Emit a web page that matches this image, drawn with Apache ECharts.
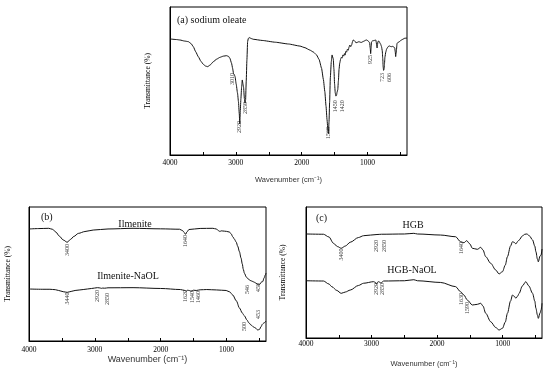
<!DOCTYPE html>
<html><head><meta charset="utf-8">
<script src="https://cdn.jsdelivr.net/npm/echarts@6/dist/echarts.min.js"></script>
<style>html,body{margin:0;padding:0;background:#fff}#c{width:550px;height:376px}</style>
</head><body><div id="c"></div>
<script>
// ---- data: [wavenumber (cm-1), transmittance (arb.)] ----
const sodiumOleate = [[4000,78.4],[3900,78.0],[3848,77.7],[3780,77.0],[3722,76.6],[3680,75.3],[3646,73.2],[3610,69.8],[3570,66.4],[3530,63.3],[3495,61.3],[3460,60.1],[3428,59.7],[3390,60.8],[3343,63.0],[3290,64.8],[3241,66.0],[3190,66.8],[3140,67.1],[3110,66.6],[3090,65.3],[3065,62],[3049,58.6],[3035,55],[3025,54.5],[3012,53],[2995,48],[2975,42],[2960,36],[2948,28],[2940,21],[2932,30],[2923,38],[2912,46],[2902,50.7],[2893,50.5],[2883,46],[2870,38],[2860,35],[2852,37],[2842,50],[2832,64],[2821,76.6],[2810,78.8],[2797,79.3],[2760,78.6],[2736,78.2],[2600,77.4],[2400,76.2],[2200,75],[2027,73.6],[1950,72.5],[1876,70.9],[1820,69.5],[1774,67.6],[1735,64.5],[1698,58.6],[1670,51],[1648,42.8],[1630,33],[1615,24],[1600,16],[1593,14.5],[1585,22],[1575,36],[1565,52],[1550,63],[1538,67.6],[1530,67.8],[1520,65],[1510,58],[1500,48],[1490,42],[1480,39.8],[1470,40.5],[1462,42.5],[1452,44],[1442,50],[1432,58],[1422,62],[1410,64.5],[1398,66],[1385,65.5],[1375,67.6],[1362,66.8],[1350,68.5],[1340,67.5],[1328,70],[1318,69.5],[1305,71.5],[1292,70.8],[1280,73],[1268,74.3],[1255,73.2],[1240,74.5],[1228,76.5],[1218,77.7],[1205,77.5],[1190,76.8],[1175,75.8],[1167,75.7],[1150,76.2],[1130,76.6],[1110,76.2],[1091,76.1],[1070,76.6],[1050,77],[1030,77.5],[1015,77.7],[995,77.2],[980,76.6],[968,75.8],[958,72],[952,68.5],[946,72],[940,76.4],[920,77.2],[900,77.3],[885,77.6],[874,77.7],[866,76],[860,73.5],[854,72.3],[848,74.5],[840,76.8],[828,77],[815,76],[800,74.8],[787,73.2],[776,70.5],[768,65],[762,59.5],[756,57.2],[750,57.8],[743,61],[735,66.2],[722,69.6],[710,71.5],[700,72.3],[687,73.2],[670,73.7],[655,73.4],[636,73.2],[618,73.4],[600,73],[586,72.3],[578,69.5],[572,66.5],[566,66.8],[560,71],[552,75.2],[540,76],[520,76.4],[500,77.2],[484,77.7],[460,78.3],[434,78.9],[400,79]];

const ilmenite = [[4000,83.6],[3850,83.9],[3700,84.1],[3640,83.3],[3590,81.2],[3540,78.3],[3480,75.4],[3420,73.7],[3370,75.8],[3320,78.0],[3250,80.3],[3150,81.7],[3025,82.8],[2800,83.6],[2420,84.1],[2000,83.7],[1712,83.4],[1665,82.3],[1640,80.8],[1621,79.6],[1600,81.5],[1570,83.2],[1400,84.0],[1207,84.1],[1156,83.6],[1120,82.3],[1100,81.7],[1080,82.2],[1056,82.1],[1000,81.8],[955,81.3],[930,80],[905,77.8],[880,76],[853,73.9],[830,70.8],[803,66.6],[780,62],[760,57.5],[745,53.5],[727,50.5],[700,47.8],[670,46.3],[640,45.2],[601,44.4],[575,43.8],[550,43.1],[525,42.3],[505,41.9],[490,42.5],[470,44],[450,44.3],[430,47],[410,49.3],[400,50.7]];

const ilmeniteNaOL = [[4000,38.8],[3800,38.6],[3682,38.6],[3600,38.3],[3550,37.7],[3480,36.8],[3420,36.3],[3360,37.0],[3300,37.7],[3177,38.4],[3050,39.2],[2960,39.8],[2924,39.6],[2900,39.3],[2880,39.5],[2850,39.4],[2800,39.7],[2420,39.8],[2000,39.2],[1700,38.4],[1640,37.8],[1611,37.1],[1590,37.9],[1560,37.6],[1540,37.2],[1500,37.9],[1460,37.7],[1400,38.2],[1300,38.4],[1150,38.1],[1005,37.7],[950,36.6],[905,34.3],[850,29.9],[803,24.6],[760,20.9],[727,18.7],[690,15.7],[660,13.5],[626,11.9],[590,10.5],[560,9.7],[526,8.2],[500,8.6],[475,10.7],[455,12.5],[440,13.2],[420,13.8],[400,14.9]];

const hgb = [[4000,79.4],[3734,79.2],[3650,77.1],[3581,72.3],[3520,69.8],[3463,68.5],[3400,70.2],[3325,73.1],[3200,76.7],[3121,78.1],[2917,79.0],[2850,79.2],[2500,79.4],[2355,79.9],[2300,79.4],[1948,78.6],[1718,77.3],[1642,73.5],[1591,72.7],[1550,74.3],[1500,71.8],[1463,68.5],[1386,67.7],[1335,69.2],[1300,67.2],[1259,62.1],[1182,57.0],[1106,51.9],[1055,48.9],[1003,50.6],[960,55.7],[927,62.1],[880,70.2],[850,73.5],[820,72.9],[799,71.8],[770,73.7],[749,74.8],[700,77.9],[660,79.2],[631,79.4],[590,77.9],[544,74.8],[510,70.2],[493,65.9],[470,60.3],[456,58.2],[430,62.6],[414,63.4],[400,67.9]];

const hgbNaOL = [[4000,43.7],[3734,43.5],[3650,41.2],[3607,39.2],[3530,36.3],[3463,34.1],[3400,35.1],[3325,36.6],[3200,40.1],[3121,41.8],[2968,43.0],[2940,42.4],[2927,41.0],[2905,42.7],[2891,43.0],[2870,42.4],[2855,41.8],[2830,43.1],[2815,43.5],[2500,43.7],[2355,44.5],[2300,43.7],[1946,42.4],[1718,39.2],[1642,35.3],[1591,32.8],[1540,29.0],[1463,25.2],[1386,25.7],[1335,26.5],[1300,24.4],[1259,18.9],[1182,12.4],[1106,8.0],[1055,6.1],[1003,7.4],[960,12.2],[927,18.9],[880,28.2],[850,32.8],[820,31.7],[799,30.3],[770,32.1],[749,34.1],[700,39.7],[647,43.0],[600,39.7],[544,34.1],[510,28.2],[493,22.7],[470,17.6],[456,15.0],[430,19.1],[414,21.4],[400,26.5]];

// peak annotations: [wavenumber, transmittance at label top, text]
const peaksA = [[3045,55.4,'3010'],[2938,23,'2920'],[2852,35.8,'2850'],[1590,18.9,'1560'],[1480,37,'1450'],[1379,37,'1420'],[950,67.6,'925'],[770,55.4,'723'],[662,55.4,'606']];
const peaksIlmenite = [[3414,72.4,'3400'],[1621,79.1,'1640'],[677,41.8,'546'],[515,43.3,'458']];
const peaksIlmeniteNaOL = [[3414,36.2,'3440'],[2968,38.1,'2920'],[2814,35.8,'2850'],[1626,38,'1620'],[1520,37.3,'1540'],[1424,37.3,'1460'],[727,14.2,'500'],[511,23.1,'453']];
const peaksHGB = [[3463,68.3,'3400'],[2932,74.8,'2920'],[2801,74.8,'2850'],[1631,73.3,'1640']];
const peaksHGBNaOL = [[2927,42,'2920'],[2840,42,'2850'],[1631,34.4,'1630'],[1540,27.5,'1590']];

const tickValues = [500,1000,1500,2000,2500,3000,3500,4000];
const tickLabels = [1000,2000,3000,4000];
const xTitle = 'Wavenumber (cm\u207B\u00B9)';
const yTitle = 'Transmittance (%)';

const chart = echarts.init(document.getElementById('c'), null, {renderer:'canvas'});
const SERIF = '"Liberation Serif","Times New Roman",serif';
const SANS = '"Liberation Sans",Arial,sans-serif';

function xAx(g, margin, gap, fs) {
  return {
    type:'value', gridIndex:g, min:400, max:4000, inverse:true,
    axisLine:{show:true, lineStyle:{color:'#000', width:1}},
    axisTick:{show:true, inside:true, length:3, customValues:tickValues, lineStyle:{color:'#000'}},
    axisLabel:{show:true, customValues:tickLabels, formatter:(v)=>String(v), margin:margin, fontFamily:SERIF, fontSize:7.5, color:'#000'},
    splitLine:{show:false},
    name:xTitle, nameLocation:'middle', nameGap:gap,
    nameTextStyle:{fontFamily:SANS, fontSize:fs, color:'#333'}
  };
}
function yAx(g, gap) {
  return {
    type:'value', gridIndex:g, min:0, max:100,
    axisLine:{show:true, lineStyle:{color:'#000'}},
    axisTick:{show:false}, axisLabel:{show:false}, splitLine:{show:false},
    name:yTitle, nameLocation:'middle', nameGap:gap, nameRotate:90,
    nameTextStyle:{fontFamily:SERIF, fontSize:7.5, color:'#000'}
  };
}
function curve(g, data, sm) {
  return {type:'line', xAxisIndex:g, yAxisIndex:g, data:data, showSymbol:false, symbol:'none',
    smooth:sm, smoothMonotone:'x', lineStyle:{color:'#111', width:1}, silent:true};
}
function peaks(g, list) {
  return {type:'scatter', xAxisIndex:g, yAxisIndex:g, symbolSize:1, itemStyle:{color:'rgba(0,0,0,0)'}, silent:true,
    labelLayout:{hideOverlap:false},
    data:list.map(p => ({value:[p[0], p[1]], name:p[2]})),
    label:{show:true, position:'inside', rotate:90, align:'right', verticalAlign:'middle',
      formatter:(d)=>d.name, fontFamily:SERIF, fontSize:6, color:'#000'}};
}
function txt(t, x, y, size, align) {
  return {type:'text', x:x, y:y, style:{text:t, x:0, y:0, font:size+'px '+SERIF, fill:'#111',
    align:align||'left', textAlign:align||'left', verticalAlign:'middle', textVerticalAlign:'middle'}};
}

chart.setOption({
  animation:false,
  backgroundColor:'#fff',
  grid:[
    {left:170, top:7, width:237, height:148, show:true, borderColor:'#000', borderWidth:1},
    {left:29, top:207, width:237, height:134, show:true, borderColor:'#000', borderWidth:1},
    {left:306, top:207, width:236, height:131, show:true, borderColor:'#000', borderWidth:1}
  ],
  xAxis:[xAx(0,4,21,7.5), xAx(1,5,14,9), xAx(2,2,22,7.5)],
  yAxis:[yAx(0,18), yAx(1,17), yAx(2,19)],
  series:[
    curve(0, sodiumOleate, 0.15),
    curve(1, ilmenite, 0.3),
    curve(1, ilmeniteNaOL, 0.3),
    curve(2, hgb, 0.3),
    curve(2, hgbNaOL, 0.3),
    peaks(0, peaksA),
    peaks(1, peaksIlmenite.concat(peaksIlmeniteNaOL)),
    peaks(2, peaksHGB.concat(peaksHGBNaOL))
  ],
  graphic:[
    txt('(a) sodium oleate', 177, 20, 10),
    txt('(b)', 41, 217, 10),
    txt('Ilmenite', 135, 224, 10, 'center'),
    txt('Ilmenite-NaOL', 128, 276, 10, 'center'),
    txt('(c)', 316, 218, 10),
    txt('HGB', 413, 225, 10, 'center'),
    txt('HGB-NaOL', 412, 270, 10, 'center')
  ]
});
</script></body></html>
